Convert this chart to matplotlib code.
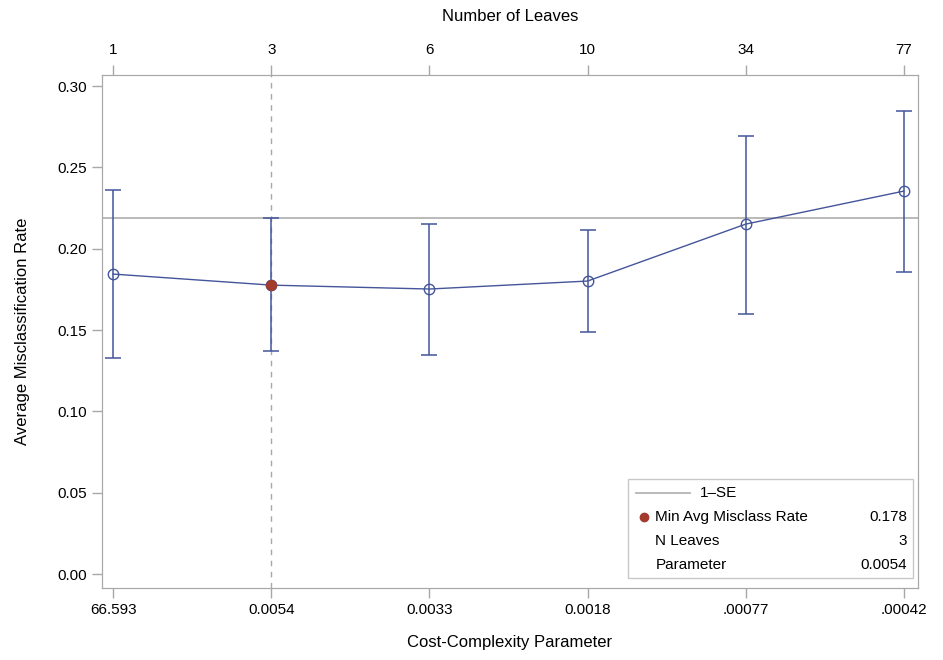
import matplotlib.pyplot as plt
from matplotlib.patches import Rectangle
from matplotlib.lines import Line2D

plt.rcParams['font.family'] = ['Liberation Sans', 'DejaVu Sans']

cp_labels = ['66.593', '0.0054', '0.0033', '0.0018', '.00077', '.00042']
leaves = ['1', '3', '6', '10', '34', '77']
avg_rate = [0.1844, 0.1776, 0.1752, 0.1801, 0.2151, 0.2354]
upper = [0.2360, 0.2188, 0.2151, 0.2114, 0.2692, 0.2846]
lower = [0.1328, 0.1370, 0.1346, 0.1487, 0.1598, 0.1855]
one_se = 0.2188
min_idx = 1
min_rate = '0.178'
min_leaves = '3'
min_param = '0.0054'

blue = '#44559a'
red = '#a23a2e'
gray = '#a8a8a8'

fig = plt.figure(figsize=(9.43, 6.6), dpi=100)
ax = fig.add_axes([0.1082, 0.1091, 0.8653, 0.7773])

x = list(range(len(avg_rate)))
yerr_lo = [a - l for a, l in zip(avg_rate, lower)]
yerr_hi = [u - a for a, u in zip(avg_rate, upper)]

ax.axhline(one_se, color='#b4b4b4', lw=1.3, zorder=1)
ax.axvline(min_idx, color=gray, lw=1.0, ls=(0, (4, 4)), zorder=1)

ax.errorbar(x, avg_rate, yerr=[yerr_lo, yerr_hi], fmt='none', ecolor=blue,
            elinewidth=1.1, capsize=6, capthick=1.1, zorder=2)
ax.plot(x, avg_rate, color=blue, lw=1.0, marker='o', ms=7.5, mfc='none',
        mec=blue, mew=1.0, zorder=3)
ax.plot([min_idx], [avg_rate[min_idx]], 'o', color=red, ms=7, zorder=4)

ax.set_xlim(-0.07, 5.09)
ax.set_ylim(-0.0086, 0.3068)
ax.set_xticks(x)
ax.set_xticklabels(cp_labels)
ax.set_yticks([0, 0.05, 0.10, 0.15, 0.20, 0.25, 0.30])
ax.set_yticklabels(['0.00', '0.05', '0.10', '0.15', '0.20', '0.25', '0.30'])
ax.set_xlabel('Cost-Complexity Parameter', fontsize=12, labelpad=13)
ax.set_ylabel('Average Misclassification Rate', fontsize=12, labelpad=20)

top = ax.twiny()
top.set_xlim(ax.get_xlim())
top.set_xticks(x)
top.set_xticklabels(leaves)
top.set_xlabel('Number of Leaves', fontsize=12, labelpad=16)

for a in (ax, top):
    for s in a.spines.values():
        s.set_color(gray)
    a.tick_params(colors=gray, labelcolor='black', labelsize=11, length=7, width=1)
top.tick_params(pad=6)

# legend box drawn in axes coordinates
ax.add_patch(Rectangle((0.644, 0.019), 0.35, 0.193, transform=ax.transAxes,
                       fill=True, facecolor='white', edgecolor='#c8c8c8', lw=1, zorder=5))
ax.add_line(Line2D([0.655, 0.72], [0.185, 0.185], transform=ax.transAxes,
                   color='#b4b4b4', lw=1.3, zorder=6))
ax.text(0.733, 0.185, '1\u2013SE', transform=ax.transAxes, va='center', fontsize=11, zorder=6)
ax.plot([0.664], [0.139], 'o', color=red, ms=6, transform=ax.transAxes, zorder=6, clip_on=False)
rows = [('Min Avg Misclass Rate', min_rate), ('N Leaves', min_leaves), ('Parameter', min_param)]
for i, (k, v) in enumerate(rows):
    yy = 0.139 - i * 0.047
    ax.text(0.678, yy, k, transform=ax.transAxes, va='center', fontsize=11, zorder=6)
    ax.text(0.987, yy, v, transform=ax.transAxes, va='center', ha='right', fontsize=11, zorder=6)

fig.savefig('out.png', dpi=100)
